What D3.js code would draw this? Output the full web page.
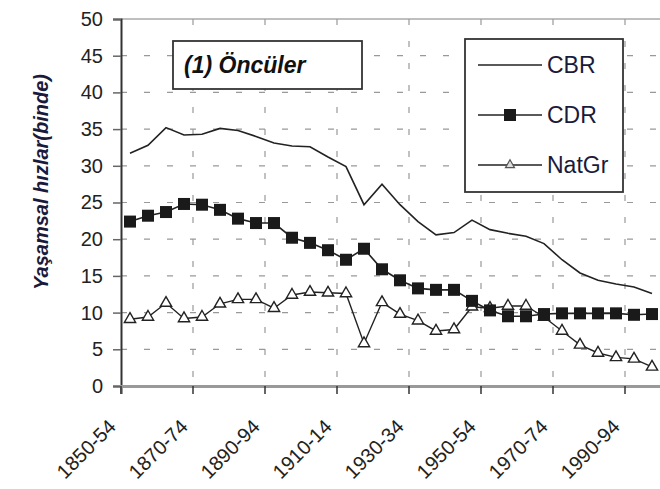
<!DOCTYPE html>
<html>
<head>
<meta charset="utf-8">
<script src="https://cdn.jsdelivr.net/npm/d3@7"></script>
<style>
  html, body { margin: 0; padding: 0; background: #fff; }
  svg { display: block; font-family: "Liberation Sans", Arial, Helvetica, sans-serif; }
</style>
</head>
<body>
<svg id="chart" width="660" height="489"></svg>
<script>
// ---- data ----
const periods = [
  "1850-54","1855-59","1860-64","1865-69","1870-74","1875-79","1880-84","1885-89",
  "1890-94","1895-99","1900-04","1905-09","1910-14","1915-19","1920-24","1925-29",
  "1930-34","1935-39","1940-44","1945-49","1950-54","1955-59","1960-64","1965-69",
  "1970-74","1975-79","1980-84","1985-89","1990-94","1995-99"
];
const cbr = [31.7, 32.8, 35.2, 34.2, 34.3, 35.1, 34.8, 34.0, 33.1, 32.7,
             32.6, 31.2, 29.9, 24.7, 27.5, 24.7, 22.4, 20.6, 20.9, 22.6,
             21.3, 20.8, 20.4, 19.4, 17.2, 15.4, 14.4, 13.9, 13.5, 12.6];
const cdr = [22.4, 23.2, 23.7, 24.8, 24.7, 24.0, 22.8, 22.2, 22.2, 20.2,
             19.5, 18.5, 17.2, 18.7, 15.9, 14.4, 13.3, 13.1, 13.1, 11.6,
             10.3, 9.5, 9.5, 9.8, 9.9, 9.9, 9.9, 9.9, 9.7, 9.8];
const natgr = [9.1, 9.4, 11.3, 9.2, 9.4, 11.2, 11.8, 11.8, 10.6, 12.4,
               12.8, 12.7, 12.6, 5.8, 11.4, 9.8, 8.9, 7.5, 7.7, 10.8,
               10.6, 10.9, 10.9, 9.4, 7.5, 5.6, 4.5, 3.9, 3.7, 2.6];
const yTicks = [0, 5, 10, 15, 20, 25, 30, 35, 40, 45, 50];
const xLabelEvery = 4;
const seriesNames = ["CBR", "CDR", "NatGr"];
const titleText = "(1) Öncüler";
const yTitle = "Yaşamsal hızlar(binde)";

// ---- layout ----
const svg = d3.select("#chart");
const pLeft = 121, pRight = 661, pTop = 19, pBottom = 386;
const x = d3.scaleBand().domain(periods).range([pLeft, pRight]).padding(0);
const y = d3.scaleLinear().domain([0, 50]).range([pBottom, pTop]);
const cx = d => x(d) + x.bandwidth() / 2;
const ink = "#222";

// gridlines (horizontal)
svg.append("g").selectAll("line").data(yTicks.filter(v => v > 0 && v < 50)).join("line")
  .attr("x1", pLeft).attr("x2", pRight)
  .attr("y1", d => y(d)).attr("y2", d => y(d))
  .attr("stroke", "#999").attr("stroke-width", 1.2).attr("stroke-dasharray", "6,17");
// top border
svg.append("line").attr("x1", pLeft).attr("x2", pRight).attr("y1", y(50)).attr("y2", y(50))
  .attr("stroke", "#aaa").attr("stroke-width", 1.5);
// vertical gridlines
const tickCats = periods.filter((d, i) => i % xLabelEvery === 0);
svg.append("g").selectAll("line").data(tickCats.slice(1)).join("line")
  .attr("x1", d => x(d)).attr("x2", d => x(d))
  .attr("y1", pTop).attr("y2", pBottom)
  .attr("stroke", "#999").attr("stroke-width", 1.2).attr("stroke-dasharray", "6,16");

// y axis
const yAxis = d3.axisLeft(y).tickValues(yTicks).tickSize(8).tickPadding(10);
const gy = svg.append("g").attr("transform", `translate(${pLeft},0)`).call(yAxis);
gy.select(".domain").attr("stroke", "#333").attr("stroke-width", 2);
gy.selectAll(".tick line").attr("stroke", "#666").attr("stroke-width", 1.5);
gy.selectAll(".tick text").attr("font-size", 20).attr("fill", "#222")
  .attr("font-family", "Liberation Sans, Arial, sans-serif");

// x axis
const xAxis = d3.axisBottom(x).tickValues(tickCats).tickSize(8).tickFormat("");
const gx = svg.append("g").attr("transform", `translate(0,${pBottom})`).call(xAxis);
gx.select(".domain").attr("stroke", "#999").attr("stroke-width", 3);
gx.selectAll(".tick").attr("transform", d => `translate(${x(d)},0)`);
gx.selectAll(".tick line").attr("stroke", "#333").attr("stroke-width", 1.5);
// rotated labels
svg.append("g").selectAll("text").data(tickCats).join("text")
  .attr("transform", d => `translate(${cx(d) - 13},428) rotate(-45)`)
  .attr("text-anchor", "end")
  .attr("font-size", 20).attr("fill", "#222")
  .text(d => d);

// y title
svg.append("text")
  .attr("transform", `translate(48,182) rotate(-90)`)
  .attr("text-anchor", "middle")
  .attr("font-size", 20).attr("font-weight", "bold").attr("font-style", "italic")
  .attr("fill", "#1a1a3a")
  .text(yTitle);

// lines
const line = arr => d3.line().x((d, i) => cx(periods[i])).y(d => y(d))(arr);
svg.append("path").attr("d", line(cbr)).attr("fill", "none").attr("stroke", ink).attr("stroke-width", 1.6);
svg.append("path").attr("d", line(natgr)).attr("fill", "none").attr("stroke", ink).attr("stroke-width", 1.4);
svg.append("path").attr("d", line(cdr)).attr("fill", "none").attr("stroke", ink).attr("stroke-width", 1.6);

// markers
const tri = d3.symbol().type(d3.symbolTriangle).size(55);
svg.append("g").selectAll("path").data(natgr).join("path")
  .attr("d", tri)
  .attr("transform", (d, i) => `translate(${cx(periods[i])},${y(d)})`)
  .attr("fill", "#fff").attr("stroke", ink).attr("stroke-width", 1.4);
svg.append("g").selectAll("rect").data(cdr).join("rect")
  .attr("x", (d, i) => cx(periods[i]) - 6).attr("y", d => y(d) - 6)
  .attr("width", 12).attr("height", 12).attr("fill", "#1a1a1a");

// title box
svg.append("rect").attr("x", 173).attr("y", 41).attr("width", 189).attr("height", 48)
  .attr("fill", "#fff").attr("stroke", "#333").attr("stroke-width", 1.8);
svg.append("text").attr("x", 184).attr("y", 73)
  .attr("font-size", 23).attr("font-weight", "bold").attr("font-style", "italic")
  .attr("fill", "#111").text(titleText);

// legend
const lg = svg.append("g");
lg.append("rect").attr("x", 465).attr("y", 39).attr("width", 158).attr("height", 153)
  .attr("fill", "#fff").attr("stroke", "#333").attr("stroke-width", 1.8);
seriesNames.forEach((name, i) => {
  const ly = 65 + i * 50;
  lg.append("line").attr("x1", 478).attr("x2", 542).attr("y1", ly).attr("y2", ly)
    .attr("stroke", ink).attr("stroke-width", 1.6);
  if (i === 1) {
    lg.append("rect").attr("x", 504).attr("y", ly - 6).attr("width", 12).attr("height", 12).attr("fill", "#1a1a1a");
  } else if (i === 2) {
    lg.append("path").attr("d", d3.symbol().type(d3.symbolTriangle).size(35))
      .attr("transform", `translate(510,${ly})`)
      .attr("fill", "#ddd").attr("stroke", "#555").attr("stroke-width", 1.2);
  }
  lg.append("text").attr("x", 547).attr("y", ly + 8)
    .attr("font-size", 23).attr("fill", "#1a1a3a").text(name);
});
</script>
</body>
</html>
